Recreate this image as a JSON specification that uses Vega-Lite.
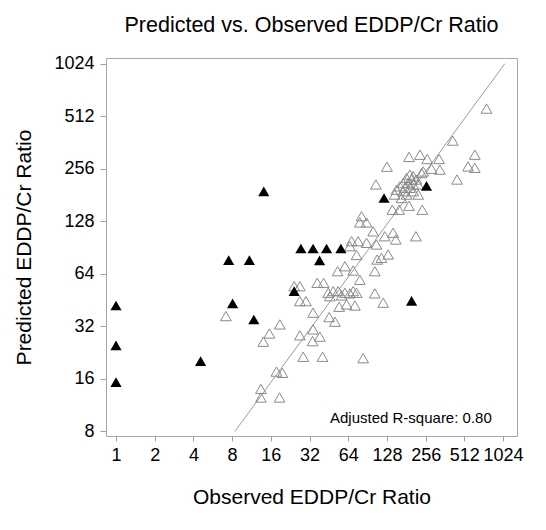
{
  "$schema": "https://vega.github.io/schema/vega-lite/v6.json",
  "width": 411,
  "height": 378,
  "autosize": {"type": "none"},
  "padding": {"left": 106, "top": 58, "right": 29, "bottom": 94},
  "config": {
    "font": "Liberation Sans",
    "view": {"stroke": "#a8a8a8", "strokeWidth": 1},
    "axis": {
      "domain": false, "grid": false, "tickColor": "#a0a0a0", "tickSize": 5,
      "labelFontSize": 18, "labelColor": "#000", "labelFont": "Liberation Sans",
      "titleFontSize": 21, "titleFontWeight": "normal", "titleColor": "#000", "titleFont": "Liberation Sans"
    }
  },
  "title": {
    "text": "Predicted vs. Observed EDDP/Cr Ratio",
    "fontSize": 21.5, "fontWeight": "normal", "font": "Liberation Sans", "color": "#000",
    "anchor": "middle", "frame": "group", "baseline": "alphabetic", "offset": 25, "dy": 24
  },
  "datasets": {
    "pts": [
      {"obs": 7.16, "pred": 36.6, "type": "open"},
      {"obs": 18.8, "pred": 32.8, "type": "open"},
      {"obs": 15.6, "pred": 29.1, "type": "open"},
      {"obs": 14.0, "pred": 26.1, "type": "open"},
      {"obs": 17.7, "pred": 17.6, "type": "open"},
      {"obs": 19.7, "pred": 17.3, "type": "open"},
      {"obs": 13.4, "pred": 14.0, "type": "open"},
      {"obs": 13.4, "pred": 12.5, "type": "open"},
      {"obs": 18.7, "pred": 12.5, "type": "open"},
      {"obs": 24.3, "pred": 54.3, "type": "open"},
      {"obs": 26.9, "pred": 54.3, "type": "open"},
      {"obs": 26.9, "pred": 44.6, "type": "open"},
      {"obs": 30.0, "pred": 44.6, "type": "open"},
      {"obs": 26.9, "pred": 28.4, "type": "open"},
      {"obs": 33.8, "pred": 26.3, "type": "open"},
      {"obs": 38.5, "pred": 27.9, "type": "open"},
      {"obs": 34.1, "pred": 30.7, "type": "open"},
      {"obs": 45.5, "pred": 36.1, "type": "open"},
      {"obs": 50.4, "pred": 34.0, "type": "open"},
      {"obs": 28.6, "pred": 21.4, "type": "open"},
      {"obs": 40.4, "pred": 21.4, "type": "open"},
      {"obs": 83.6, "pred": 21.0, "type": "open"},
      {"obs": 34.1, "pred": 38.3, "type": "open"},
      {"obs": 36.7, "pred": 56.8, "type": "open"},
      {"obs": 41.2, "pred": 56.8, "type": "open"},
      {"obs": 44.7, "pred": 49.8, "type": "open"},
      {"obs": 48.9, "pred": 50.9, "type": "open"},
      {"obs": 53.4, "pred": 50.9, "type": "open"},
      {"obs": 60.3, "pred": 49.8, "type": "open"},
      {"obs": 65.9, "pred": 49.4, "type": "open"},
      {"obs": 69.9, "pred": 50.9, "type": "open"},
      {"obs": 74.3, "pred": 49.8, "type": "open"},
      {"obs": 46.1, "pred": 47.6, "type": "open"},
      {"obs": 56.8, "pred": 48.1, "type": "open"},
      {"obs": 54.4, "pred": 41.4, "type": "open"},
      {"obs": 62.1, "pred": 42.7, "type": "open"},
      {"obs": 72.1, "pred": 42.1, "type": "open"},
      {"obs": 103, "pred": 49.4, "type": "open"},
      {"obs": 119.6, "pred": 43.7, "type": "open"},
      {"obs": 52.9, "pred": 66.2, "type": "open"},
      {"obs": 60.3, "pred": 70.7, "type": "open"},
      {"obs": 69.9, "pred": 66.8, "type": "open"},
      {"obs": 78.8, "pred": 59.0, "type": "open"},
      {"obs": 103, "pred": 66.2, "type": "open"},
      {"obs": 74.3, "pred": 82.0, "type": "open"},
      {"obs": 107.4, "pred": 77.2, "type": "open"},
      {"obs": 116, "pred": 79.0, "type": "open"},
      {"obs": 130.8, "pred": 82.5, "type": "open"},
      {"obs": 67.9, "pred": 98.4, "type": "open"},
      {"obs": 76.4, "pred": 98.4, "type": "open"},
      {"obs": 88.8, "pred": 96.3, "type": "open"},
      {"obs": 106, "pred": 94.2, "type": "open"},
      {"obs": 65.9, "pred": 92.1, "type": "open"},
      {"obs": 123, "pred": 105, "type": "open"},
      {"obs": 143, "pred": 110, "type": "open"},
      {"obs": 150, "pred": 100.6, "type": "open"},
      {"obs": 100, "pred": 112, "type": "open"},
      {"obs": 215, "pred": 105, "type": "open"},
      {"obs": 78.8, "pred": 126, "type": "open"},
      {"obs": 88.8, "pred": 126, "type": "open"},
      {"obs": 81.3, "pred": 136.8, "type": "open"},
      {"obs": 141, "pred": 149, "type": "open"},
      {"obs": 159, "pred": 149, "type": "open"},
      {"obs": 190, "pred": 157, "type": "open"},
      {"obs": 241, "pred": 149, "type": "open"},
      {"obs": 147, "pred": 182, "type": "open"},
      {"obs": 166, "pred": 174, "type": "open"},
      {"obs": 224, "pred": 182, "type": "open"},
      {"obs": 105, "pred": 208, "type": "open"},
      {"obs": 128, "pred": 263, "type": "open"},
      {"obs": 190, "pred": 299, "type": "open"},
      {"obs": 231, "pred": 308, "type": "open"},
      {"obs": 263, "pred": 291, "type": "open"},
      {"obs": 326, "pred": 291, "type": "open"},
      {"obs": 284, "pred": 256, "type": "open"},
      {"obs": 330, "pred": 253, "type": "open"},
      {"obs": 245, "pred": 247, "type": "open"},
      {"obs": 238, "pred": 242, "type": "open"},
      {"obs": 416, "pred": 371, "type": "open"},
      {"obs": 617, "pred": 308, "type": "open"},
      {"obs": 547, "pred": 264, "type": "open"},
      {"obs": 617, "pred": 259, "type": "open"},
      {"obs": 449, "pred": 222, "type": "open"},
      {"obs": 761, "pred": 566, "type": "open"},
      {"obs": 193, "pred": 237, "type": "open"},
      {"obs": 205, "pred": 232, "type": "open"},
      {"obs": 182, "pred": 227, "type": "open"},
      {"obs": 199, "pred": 222, "type": "open"},
      {"obs": 217, "pred": 222, "type": "open"},
      {"obs": 171, "pred": 212, "type": "open"},
      {"obs": 187, "pred": 212, "type": "open"},
      {"obs": 205, "pred": 208, "type": "open"},
      {"obs": 224, "pred": 208, "type": "open"},
      {"obs": 161, "pred": 203, "type": "open"},
      {"obs": 176, "pred": 199, "type": "open"},
      {"obs": 193, "pred": 199, "type": "open"},
      {"obs": 152, "pred": 194, "type": "open"},
      {"obs": 171, "pred": 190, "type": "open"},
      {"obs": 205, "pred": 190, "type": "open"},
      {"obs": 182, "pred": 182, "type": "open"},
      {"obs": 1, "pred": 42.1, "type": "filled"},
      {"obs": 1, "pred": 24.9, "type": "filled"},
      {"obs": 1, "pred": 15.3, "type": "filled"},
      {"obs": 4.55, "pred": 20.2, "type": "filled"},
      {"obs": 7.52, "pred": 76.6, "type": "filled"},
      {"obs": 10.9, "pred": 76.6, "type": "filled"},
      {"obs": 8.07, "pred": 43.3, "type": "filled"},
      {"obs": 11.8, "pred": 35.0, "type": "filled"},
      {"obs": 14.1, "pred": 190, "type": "filled"},
      {"obs": 24.3, "pred": 50.9, "type": "filled"},
      {"obs": 27.4, "pred": 89.3, "type": "filled"},
      {"obs": 34.1, "pred": 89.3, "type": "filled"},
      {"obs": 43.4, "pred": 89.3, "type": "filled"},
      {"obs": 56.1, "pred": 89.3, "type": "filled"},
      {"obs": 38.3, "pred": 76.3, "type": "filled"},
      {"obs": 121.5, "pred": 174, "type": "filled"},
      {"obs": 199, "pred": 44.8, "type": "filled"},
      {"obs": 260, "pred": 204, "type": "filled"}
    ],
    "diag": [
      {"obs": 8.41, "pred": 8},
      {"obs": 1056, "pred": 1024}
    ],
    "note": [
      {"obs": 836, "pred": 8.9, "label": "Adjusted R-square:  0.80"}
    ]
  },
  "encoding": {
    "x": {
      "field": "obs", "type": "quantitative",
      "scale": {"type": "log", "base": 2, "domain": [0.836, 1314], "nice": false, "zero": false},
      "axis": {"values": [1, 2, 4, 8, 16, 32, 64, 128, 256, 512, 1024], "format": "d", "labelPadding": 5, "titlePadding": 22, "labelFlush": false, "labelOverlap": false},
      "title": "Observed EDDP/Cr Ratio"
    },
    "y": {
      "field": "pred", "type": "quantitative",
      "scale": {"type": "log", "base": 2, "domain": [7.52, 1104], "nice": false, "zero": false},
      "axis": {"values": [8, 16, 32, 64, 128, 256, 512, 1024], "format": "d", "tickSize": 6, "labelPadding": 6, "titlePadding": 19, "labelFlush": false, "labelOverlap": false},
      "title": "Predicted EDDP/Cr Ratio"
    }
  },
  "layer": [
    {
      "data": {"name": "diag"},
      "mark": {"type": "line", "color": "#9a9a9a", "strokeWidth": 1}
    },
    {
      "data": {"name": "pts"},
      "transform": [{"filter": "datum.type == 'open'"}],
      "mark": {"type": "point", "shape": "triangle-up", "size": 115, "filled": false, "stroke": "#8a8a8a", "strokeWidth": 1, "opacity": 1}
    },
    {
      "data": {"name": "pts"},
      "transform": [{"filter": "datum.type == 'filled'"}],
      "mark": {"type": "point", "shape": "triangle-up", "size": 125, "filled": true, "color": "#000", "opacity": 1}
    },
    {
      "data": {"name": "note"},
      "mark": {"type": "text", "align": "right", "baseline": "alphabetic", "fontSize": 15, "font": "Liberation Sans", "color": "#000"},
      "encoding": {"text": {"field": "label"}}
    }
  ]
}
